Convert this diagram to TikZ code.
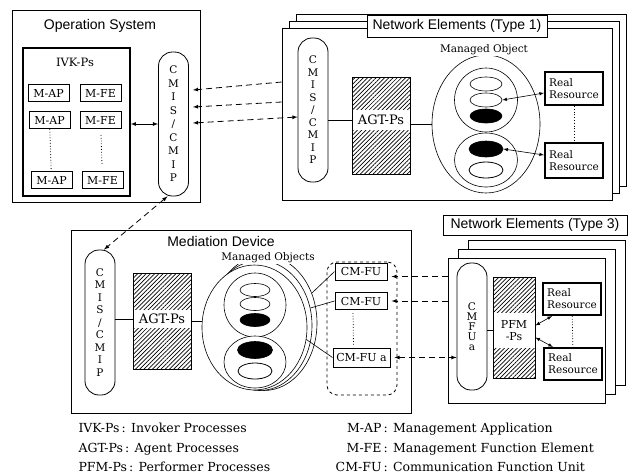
\documentclass[tikz,border=0pt]{standalone}
\usepackage{fontspec}
\setmainfont{DejaVu Serif}
\setsansfont{Liberation Sans}
\usetikzlibrary{shapes,patterns.meta}

\begin{document}
\begin{tikzpicture}[x=1pt,y=-1pt,
  frame/.style={draw,semithick,fill=white,inner sep=0pt},
  title/.style={font=\sffamily\fontsize{14}{16}\selectfont},
  fnbox/.style={draw,line width=1pt,fill=white,minimum width=41pt,minimum height=17pt,inner sep=0pt,font=\fontsize{11}{12}\selectfont},
  pill/.style={draw,thick,fill=white,rounded corners=14pt,minimum width=30pt,inner sep=0pt,align=center,font=\fontsize{10.5}{12.5}\selectfont},
  proc/.style={draw,thick,pattern={Lines[angle=45,distance=3pt,line width=0.7pt]},inner sep=0pt},
  band/.style={fill=white,inner sep=0pt,align=center,font=\fontsize{13}{14}\selectfont},
  res/.style={draw,line width=2pt,fill=white,minimum width=58pt,minimum height=33pt,inner sep=0pt,align=left,font=\fontsize{10.5}{12}\selectfont},
  mo/.style={draw,semithick,ellipse,fill=white,inner sep=0pt},
  smallmo/.style={mo,minimum width=32pt,minimum height=14pt},
  molabel/.style={fill=white,inner sep=1pt,font=\fontsize{10.5}{12}\selectfont},
  dasharrow/.style={dash pattern=on 6pt off 4pt,thick},
  legend/.style={anchor=base west,font=\fontsize{12.5}{14}\selectfont}]
\useasboundingbox (0,0) rectangle (635,475);

\node[frame,minimum width=188pt,minimum height=192pt] (os) at (106,106) {};
\node[title] (ostitle) at (100,26) {Operation System};
\node[frame,line width=1.5pt,minimum width=107pt,minimum height=148pt] (ivk) at (76.5,122) {};
\node[font=\fontsize{11.5}{13}\selectfont] (ivklabel) at (75,62) {IVK-Ps};
\node[fnbox] (ap1) at (48.5,93) {M-AP};
\node[fnbox] (fe1) at (100.5,93) {M-FE};
\node[fnbox] (ap2) at (49.5,120) {M-AP};
\node[fnbox] (fe2) at (100.5,120) {M-FE};
\node[fnbox] (ap3) at (51.5,180) {M-AP};
\node[fnbox] (fe3) at (102.5,180) {M-FE};
\draw[dotted,thick,shorten <=6pt,shorten >=6pt] (ap2) -- (ap3) (fe2) -- (fe3);
\node[pill,minimum height=144pt,font=\fontsize{10.5}{13.5}\selectfont] (ospill) at (173.5,124) {C\\M\\I\\S\\/\\C\\M\\I\\P};
\draw[latex-latex,thick] (ivk.east |- ospill) -- (ospill.west);

\node[frame,minimum width=330pt,minimum height=172pt] (ne1back) at (461,100) {};
\node[frame,minimum width=330pt,minimum height=172pt] (ne1mid) at (454,107) {};
\node[frame,minimum width=330pt,minimum height=172pt] (ne1) at (447,114) {};
\node[frame,title,minimum width=180pt,minimum height=22pt] (ne1title) at (457,26) {Network Elements (Type 1)};
\node[pill,minimum height=144pt] (ne1pill) at (313,110) {C\\M\\I\\S\\/\\C\\M\\I\\P};
\node[proc,minimum width=58pt,minimum height=97pt] (agt1) at (381,125.5) {};
\node[band,minimum width=57pt,minimum height=20pt] (agt1band) at (381,120) {AGT-Ps};
\node[mo,minimum width=108pt,minimum height=138pt] (mo1) at (486,124) {};
\node[molabel] (mo1label) at (484,50) {Managed Object};
\node[mo,minimum width=63pt,minimum height=64pt] (mo1up) at (486,100) {};
\node[smallmo] (mo1up1) at (486,84) {};
\node[smallmo] (mo1up2) at (486,100) {};
\node[smallmo,fill=black] (mo1up3) at (486,116) {};
\node[mo,minimum width=63pt,minimum height=54pt] (mo1low) at (486,160) {};
\node[smallmo,fill=black,minimum width=34pt,minimum height=16pt] (mo1low1) at (486,149) {};
\node[smallmo,thick,minimum width=34pt,minimum height=16pt] (mo1low2) at (486,170) {};
\node[res] (rr1a) at (574,88.5) {Real\\Resource};
\node[res,minimum height=35pt] (rr1b) at (574,160.5) {Real\\Resource};
\draw[dotted,thick] (rr1a) -- (rr1b);
\draw[semithick] (ne1pill.east |- agt1band) -- (agt1.west |- agt1band);
\draw[semithick] (agt1.east |- mo1) -- (mo1.west);
\draw[latex-latex,semithick] (mo1up2.east) -- ([yshift=-4.5pt]rr1a.west);
\draw[latex-latex,semithick] (mo1low1.east) -- ([yshift=5.5pt]rr1b.west);

\draw[dasharrow,-latex] ([yshift=32pt]ne1.west) -- ([xshift=4pt,yshift=34pt]ospill.east);
\draw[dasharrow,-latex] ([yshift=12pt]ne1.west) -- ([xshift=4pt,yshift=17pt]ospill.east);
\draw[dasharrow,latex-latex] ([xshift=4pt,yshift=1pt]ospill.east) -- ([yshift=-7pt]ne1pill.west);

\node[frame,minimum width=340pt,minimum height=183pt] (md) at (241,321.5) {};
\node[title] (mdtitle) at (221,241) {Mediation Device};
\node[pill,minimum height=145pt] (mdpill) at (100,322.5) {C\\M\\I\\S\\/\\C\\M\\I\\P};
\draw[dasharrow,latex-latex] ([xshift=-6pt]ospill.south) -- ([xshift=4pt]mdpill.north);
\node[proc,minimum width=58pt,minimum height=96pt] (agt2) at (162,321) {};
\node[band,minimum width=57pt,minimum height=18pt] (agt2band) at (162,319) {AGT-Ps};
\draw[semithick] (mdpill.east |- agt2band) -- (agt2.west |- agt2band);
\node[mo,minimum width=106pt,minimum height=135pt] (mo2c) at (264,323) {};
\node[mo,minimum width=105pt,minimum height=130pt] (mo2b) at (259.5,325.5) {};
\node[mo,minimum width=105pt,minimum height=125pt] (mo2) at (254.5,327.5) {};
\node[molabel] (mo2label) at (268,258) {Managed Objects};
\draw[semithick] (agt2.east) -- (agt2.east -| mo2.west);
\node[mo,minimum width=62pt,minimum height=64pt] (mo2up) at (255,305) {};
\node[smallmo,minimum width=30pt,minimum height=13pt] (mo2up1) at (255,290) {};
\node[smallmo,minimum width=30pt,minimum height=13pt] (mo2up2) at (255,304) {};
\node[smallmo,fill=black,minimum width=30pt,minimum height=13pt] (mo2up3) at (255,320) {};
\node[mo,minimum width=62pt,minimum height=52pt] (mo2low) at (255,362) {};
\node[smallmo,fill=black,minimum width=35pt,minimum height=17pt] (mo2low1) at (255,350) {};
\node[smallmo,thick,minimum width=34pt,minimum height=16pt] (mo2low2) at (255,371) {};

\node[draw,dashed,thick,rounded corners=10pt,minimum width=70pt,minimum height=133pt] (cmfugrp) at (362,328.5) {};
\node[fnbox,minimum width=52pt] (cmfu1) at (361,271.5) {CM-FU};
\node[fnbox,minimum width=52pt] (cmfu2) at (361,301) {CM-FU};
\node[fnbox,minimum width=57pt,minimum height=19pt] (cmfua) at (361.5,357.5) {CM-FU a};
\draw[dotted,thick,shorten <=3pt,shorten >=3pt] ([xshift=-8pt]cmfu2.south) -- ([xshift=-8pt]cmfua.north);
\draw[semithick] (mo2c.32) -- (cmfu1.west) (mo2b.19) -- (cmfu2.west) (mo2.-13) -- (cmfua.west);

\node[frame,minimum width=157pt,minimum height=145pt] (ne3back) at (546.5,312.5) {};
\node[frame,minimum width=157pt,minimum height=145pt] (ne3mid) at (536.5,321.5) {};
\node[frame,minimum width=157pt,minimum height=145pt] (ne3) at (526.5,330.5) {};
\node[frame,title,minimum width=184pt,minimum height=20pt] (ne3title) at (535,225) {Network Elements (Type 3)};
\node[pill,minimum height=127pt,font=\fontsize{10.5}{10}\selectfont] (cmfupill) at (472,326.5) {C\\M\\F\\U\\a};
\node[proc,minimum width=42pt,minimum height=101pt] (pfm) at (514,327.5) {};
\node[band,minimum width=41pt,minimum height=35pt,font=\fontsize{11}{12}\selectfont] (pfmband) at (514,330.5) {PFM\\-Ps};
\node[res,minimum height=32pt] (rr3a) at (572,299) {Real\\Resource};
\node[res,minimum height=32pt] (rr3b) at (573,364) {Real\\Resource};
\draw[dotted,thick] (rr3a) -- (rr3b);
\draw[semithick] (cmfupill.east |- pfmband) -- (pfm.west |- pfmband);
\draw[latex-latex,semithick] ([yshift=2pt]pfm.east) -- ([xshift=10pt]rr3a.south west);
\draw[latex-latex,semithick] ([yshift=-10pt]pfm.east) -- ([xshift=10pt]rr3b.north west);
\draw[dasharrow,-latex] ([yshift=-5pt]cmfu1.east -| ne3.west) -- ([xshift=4pt,yshift=-5pt]cmfu1.east);
\draw[dasharrow,-latex] (cmfu2.east -| ne3.west) -- ([xshift=4pt]cmfu2.east);
\draw[dasharrow,latex-latex] ([xshift=4pt]cmfua.east) -- (cmfua.east -| cmfupill.west);

\node[legend] (lgivk) at (75,432) {IVK-Ps\,: Invoker Processes};
\node[legend] (lgagt) at (75,452) {AGT-Ps\,: Agent Processes};
\node[legend] (lgpfm) at (75,471) {PFM-Ps\,: Performer Processes};
\node[legend] (lgmap) at (313,432) {\makebox[65pt][r]{M-AP}\,: Management Application};
\node[legend] (lgmfe) at (313,452) {\makebox[65pt][r]{M-FE}\,: Management Function Element};
\node[legend] (lgcmfu) at (313,471) {\makebox[65pt][r]{CM-FU}\,: Communication Function Unit};
\end{tikzpicture}
\end{document}
